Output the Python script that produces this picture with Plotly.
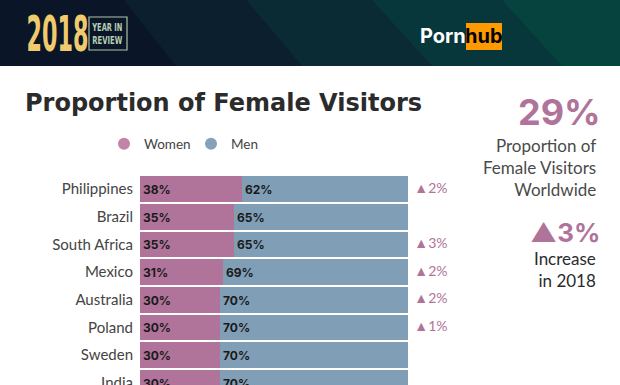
import plotly.graph_objects as go

countries = ["Philippines", "Brazil", "South Africa", "Mexico", "Australia", "Poland", "Sweden", "India"]
women = [38, 35, 35, 31, 30, 30, 30, 30]
men = [62, 65, 65, 69, 70, 70, 70, 70]
change = [2, None, 3, 2, 2, 1, None, None]

W, H = 620, 385
WOMEN_C = "#b0739a"
MEN_C = "#809eb6"
PINK = "#b0739a"
GREY = "#444444"

def px(x):
    return x / W

def py(y):
    return 1 - y / H

ypos = list(range(len(countries)))

fig = go.Figure()
fig.add_trace(go.Bar(
    y=ypos, x=women, orientation="h", width=0.93,
    marker=dict(color=WOMEN_C, line=dict(width=0)),
    text=[f"{v}%" for v in women], textposition="inside", insidetextanchor="start",
    textangle=0, insidetextfont=dict(family="Inter", size=12, color="#1a1a1a", weight="bold"),
    showlegend=False, hoverinfo="skip",
))
fig.add_trace(go.Bar(
    y=ypos, x=men, orientation="h", width=0.93,
    marker=dict(color=MEN_C, line=dict(width=0)),
    text=[f"{v}%" for v in men], textposition="inside", insidetextanchor="start",
    textangle=0, insidetextfont=dict(family="Inter", size=12, color="#1a1a1a", weight="bold"),
    showlegend=False, hoverinfo="skip",
))
# legend entries
fig.add_trace(go.Scatter(x=[None], y=[None], mode="markers", name="Women",
                         marker=dict(symbol="circle", size=17, color="#c484a8")))
fig.add_trace(go.Scatter(x=[None], y=[None], mode="markers", name="Men",
                         marker=dict(symbol="circle", size=17, color="#86a2ba")))
# change indicators
cy = [y for y, c in zip(ypos, change) if c is not None]
ct = [f"▲{c}%" for c in change if c is not None]
fig.add_trace(go.Scatter(
    x=[0.03] * len(cy), y=cy, mode="text", text=ct, textposition="middle right",
    textfont=dict(family="Lato", size=14, color=PINK),
    xaxis="x2", showlegend=False, hoverinfo="skip",
))

plot_top = 175
fig.update_layout(
    width=W, height=H, autosize=False,
    margin=dict(l=0, r=0, t=0, b=0, autoexpand=False),
    paper_bgcolor="white", plot_bgcolor="white",
    barmode="stack", bargap=0,
    xaxis=dict(domain=[px(140), px(408)], range=[0, 100], visible=False, fixedrange=True),
    xaxis2=dict(domain=[px(408), 1], range=[0, 1], visible=False, anchor="y"),
    yaxis=dict(domain=[0, py(plot_top)], range=[7.076, -0.505], tickvals=ypos, ticktext=countries,
               showgrid=False, zeroline=False, showline=False, ticks="", ticklabelstandoff=6,
               ticklabeloverflow="allow", automargin=False,
               tickfont=dict(family="Lato", size=15, color=GREY)),
    legend=dict(orientation="h", x=px(104), y=py(144), yanchor="middle", xanchor="left",
                traceorder="normal",
                font=dict(family="Lato", size=13.5, color=GREY), bgcolor="rgba(0,0,0,0)",
                itemsizing="constant", entrywidth=42, entrywidthmode="pixels"),
    showlegend=True,
)

# header background bands
bands = [
    (124, 176, "#0a1628"),
    (246, 302, "#0b1f2e"),
    (372, 432, "#0a2a34"),
    (502, 562, "#08373b"),
    (800, 860, "#06433f"),
]
hb = 66
shapes = [dict(type="rect", xref="paper", yref="paper", x0=0, x1=1, y0=py(hb), y1=1,
               fillcolor="#06433f", line=dict(width=0), layer="below")]
for (t, b, c) in reversed(bands):
    path = f"M {px(0)} {py(0)} L {px(t)} {py(0)} L {px(b)} {py(hb)} L {px(0)} {py(hb)} Z"
    shapes.append(dict(type="path", xref="paper", yref="paper", path=path, fillcolor=c,
                       line=dict(width=0), layer="below"))
# YEAR IN REVIEW box
shapes.append(dict(type="rect", xref="paper", yref="paper", x0=px(89), x1=px(127), y0=py(17), y1=py(50),
                   line=dict(color="#a9c3a8", width=1.2), fillcolor="rgba(0,0,0,0)"))
# hub box
shapes.append(dict(type="rect", xref="paper", yref="paper", x0=px(466), x1=px(502), y0=py(23), y1=py(50),
                   line=dict(color="#ff9900", width=0), fillcolor="#ff9900"))
fig.update_layout(shapes=shapes)

COND = "DejaVu Sans Condensed, Roboto, sans-serif"
ann = []
ann.append(dict(text="2018", x=px(57), y=py(34), xanchor="center", yanchor="middle",
                font=dict(family=COND, size=50, color="#f0cb6d", weight="bold")))
ann.append(dict(text="YEAR IN<br>REVIEW", x=px(107), y=py(34), xanchor="center", yanchor="middle",
                font=dict(family=COND, size=10, color="#b5cfb3", weight="bold"),
                align="center"))
ann.append(dict(text="Porn", x=px(468), y=py(36), xanchor="right", yanchor="middle",
                font=dict(family="Inter", size=20, color="white", weight="bold")))
ann.append(dict(text="hub", x=px(484), y=py(36), xanchor="center", yanchor="middle",
                font=dict(family="Inter", size=20, color="black", weight="bold")))
ann.append(dict(text="Proportion of Female Visitors", x=px(23), y=py(103), xanchor="left", yanchor="middle",
                font=dict(family="DejaVu Sans", size=24, color="#2b2b2b", weight="bold")))
ann.append(dict(text="29%", x=px(603), y=py(112), xanchor="right", yanchor="middle",
                font=dict(family="Inter", size=36, color=PINK, weight="bold")))
ann.append(dict(text="Proportion of<br>Female Visitors<br>Worldwide", x=px(598), y=py(168), xanchor="right",
                yanchor="middle", align="right",
                font=dict(family="Lato", size=17, color="#4a4a4a")))
ann.append(dict(text="▲3%", x=px(602), y=py(232), xanchor="right", yanchor="middle",
                font=dict(family="Inter", size=26, color=PINK, weight="bold")))
ann.append(dict(text="Increase<br>in 2018", x=px(598), y=py(269), xanchor="right", yanchor="middle",
                align="right", font=dict(family="Lato", size=17, color="#2b2b2b")))
for a in ann:
    a.update(xref="paper", yref="paper", showarrow=False)
fig.update_layout(annotations=ann)

post = """
document.documentElement.style.margin='0';
document.body.style.margin='0';
document.body.style.padding='0';
document.body.style.overflow='hidden';
document.querySelectorAll('text.annotation-text').forEach(function(t){
  if (t.textContent === '2018') {
    t.setAttribute('textLength', '62');
    t.setAttribute('lengthAdjust', 'spacingAndGlyphs');
  }
  if (t.textContent.indexOf('YEAR IN') === 0) {
    t.querySelectorAll('tspan.line').forEach(function(s){
      s.setAttribute('textLength', '30');
      s.setAttribute('lengthAdjust', 'spacingAndGlyphs');
    });
  }
});
"""
fig.write_html("out.html", post_script=post, config={"displayModeBar": False, "responsive": False})
